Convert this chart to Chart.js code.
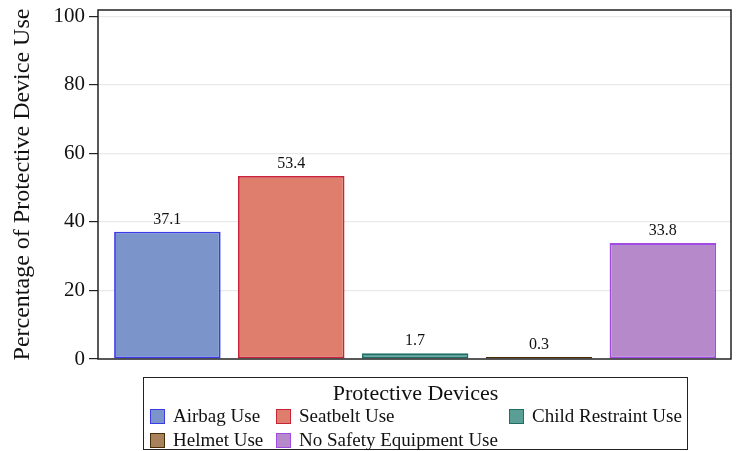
<!DOCTYPE html>
<html>
<head>
<meta charset="utf-8">
<script src="https://cdn.jsdelivr.net/npm/chart.js@4"></script>
<style>
  html, body { margin: 0; padding: 0; background: #fff; }
  #wrap { position: relative; width: 738px; height: 451px; font-family: "Liberation Serif", "Times New Roman", serif; }
  #chart { position: absolute; left: 0; top: 0; }
  #legend {
    position: absolute; left: 143px; top: 377px; width: 545px; height: 73px;
    box-sizing: border-box; border: 1.5px solid #222; color: #111;
  }
  #legend .title { text-align: center; font-size: 22px; line-height: 22px; margin-top: 4px; }
  #legend .items { display: grid; grid-template-columns: 126px 233px auto; padding-left: 6px; }
  #legend .item { display: flex; align-items: center; font-size: 19px; height: 24px; white-space: nowrap; }
  #legend .sw { width: 13px; height: 13px; border: 1.5px solid; margin-right: 8px; flex: none; }
</style>
</head>
<body>
<div id="wrap">
  <canvas id="chart" width="738" height="451"></canvas>
  <div id="legend"></div>
</div>
<script>
const categories = ['Airbag Use', 'Seatbelt Use', 'Child Restraint Use', 'Helmet Use', 'No Safety Equipment Use'];
const values = [37.1, 53.4, 1.7, 0.3, 33.8];
const yTicks = [0, 20, 40, 60, 80, 100];

const fillColors = ['#7b95cb', '#e07e6e', '#5a9e96', '#a8825a', '#b589ca'];
const lineColors = ['#3b3be8', '#c7243a', '#1f6e66', '#4a2e0a', '#a24ae4'];

Chart.defaults.font.family = '"Liberation Serif", "Times New Roman", serif';
Chart.defaults.color = '#111';

// value labels above each bar
const barLabels = {
  id: 'barLabels',
  afterDatasetsDraw(chart) {
    const ctx = chart.ctx;
    const meta = chart.getDatasetMeta(0);
    ctx.save();
    ctx.font = '16px "Liberation Serif", serif';
    ctx.fillStyle = '#111';
    ctx.textAlign = 'center';
    ctx.textBaseline = 'alphabetic';
    meta.data.forEach((bar, i) => {
      ctx.fillText(values[i].toFixed(1), bar.x, bar.y - 8);
    });
    ctx.restore();
  }
};

// box around the plot region
const frame = {
  id: 'frame',
  afterDraw(chart) {
    const a = chart.chartArea;
    const ctx = chart.ctx;
    ctx.save();
    ctx.strokeStyle = '#222';
    ctx.lineWidth = 1.5;
    ctx.strokeRect(a.left, a.top, a.right - a.left, a.bottom - a.top);
    ctx.restore();
  }
};

new Chart(document.getElementById('chart'), {
  type: 'bar',
  data: {
    datasets: [{
      label: 'Protective Devices',
      data: categories.map((c, i) => ({ x: i, y: values[i] })),
      backgroundColor: fillColors,
      borderColor: lineColors,
      borderWidth: 1.8,
      borderSkipped: false,
      minBarLength: 2,
      categoryPercentage: 1,
      barPercentage: 0.86
    }]
  },
  options: {
    responsive: false,
    animation: false,
    layout: { padding: { left: 0, top: 10, right: 7, bottom: 92 } },
    plugins: { legend: { display: false }, tooltip: { enabled: false } },
    scales: {
      x: {
        type: 'linear', min: -0.56, max: 4.55, offset: false, display: false,
        afterBuildTicks: (scale) => { scale.ticks = categories.map((c, i) => ({ value: i })); }
      },
      y: {
        min: 0,
        max: 101.8,
        afterBuildTicks: (scale) => { scale.ticks = yTicks.map(v => ({ value: v })); },
        afterFit: (scale) => {
          scale.width = 98;
          scale.paddingTop = 0;
          scale.paddingBottom = 0;
        },
        border: { display: false },
        grid: {
          color: (c) => c.tick && c.tick.value === 0 ? 'rgba(0,0,0,0)' : '#e9e9e9',
          tickColor: '#222',
          tickLength: 9,
          lineWidth: 1.2
        },
        ticks: { font: { size: 21 }, color: '#111', padding: 4 },
        title: {
          display: true,
          text: 'Percentage of Protective Device Use',
          font: { size: 24, lineHeight: 1 },
          color: '#111',
          padding: { top: 11, bottom: 0 }
        }
      }
    }
  },
  plugins: [barLabels, frame]
});

// legend in three columns, built from the same arrays
const legend = document.getElementById('legend');
legend.innerHTML = '<div class="title">Protective Devices</div><div class="items">' +
  categories.map((c, i) =>
    `<div class="item"><span class="sw" style="background:${fillColors[i]};border-color:${lineColors[i]}"></span>${c}</div>`
  ).join('') + '</div>';
</script>
</body>
</html>
